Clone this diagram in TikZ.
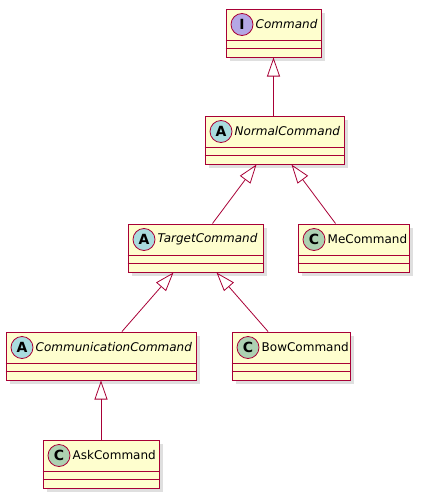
\documentclass[tikz,border=0pt]{standalone}
\usepackage{fontspec}
\setmainfont{DejaVu Sans}
\usetikzlibrary{arrows.meta,shadows}
\definecolor{boxfill}{HTML}{FEFECE}
\definecolor{boxline}{HTML}{A80036}
\definecolor{ifill}{HTML}{B4A7E5}
\definecolor{afill}{HTML}{A9DCDF}
\definecolor{cfill}{HTML}{ADD1B2}
\begin{document}
\begin{tikzpicture}[x=1pt,y=-1pt,
    classbox/.style={draw=boxline, fill=boxfill, line width=1pt, minimum height=48pt, inner sep=0pt,
      drop shadow={shadow xshift=4pt, shadow yshift=-4pt, fill=black!25}},
    badge/.style={circle, draw=boxline, line width=0.8pt, fill=#1, minimum size=22pt, inner sep=0pt,
      font=\fontsize{14}{14}\selectfont\bfseries},
    cname/.style={anchor=west, inner sep=0pt, font=\fontsize{12}{14}\selectfont},
    extends/.style={draw=boxline, line width=0.8pt,
      -{Triangle[open, length=19pt, width=13pt, line width=0.8pt]}}]
      \useasboundingbox (0,0) rectangle (427,498);
      \node [classbox, minimum width=95pt] (cmd) at (273.5,33) {};
      \node [classbox, minimum width=139pt] (normal) at (274.5,140) {};
      \node [classbox, minimum width=135pt] (target) at (195.5,248) {};
      \node [classbox, minimum width=111pt] (me) at (353.5,248) {};
      \node [classbox, minimum width=190pt] (comm) at (101,356) {};
      \node [classbox, minimum width=118pt] (bow) at (291,356) {};
      \node [classbox, minimum width=116pt] (ask) at (101,464) {};
      \foreach \n in {cmd,normal,target,me,comm,bow,ask} {
        \draw [boxline, line width=1pt] ([yshift=-32pt]\n.north west) -- ([yshift=-32pt]\n.north east);
        \draw [boxline, line width=1pt] ([yshift=-40pt]\n.north west) -- ([yshift=-40pt]\n.north east);
      }
      \node [badge=ifill] (cmdbadge) at ([xshift=16.5pt,yshift=-16pt]cmd.north west) {I};
      \node [cname] (cmdname) at ([xshift=30pt,yshift=-16pt]cmd.north west) {\itshape Command};
      \node [badge=afill] (normalbadge) at ([xshift=16.5pt,yshift=-16pt]normal.north west) {A};
      \node [cname] (normalname) at ([xshift=30pt,yshift=-16pt]normal.north west) {\itshape NormalCommand};
      \node [badge=afill] (targetbadge) at ([xshift=16.5pt,yshift=-16pt]target.north west) {A};
      \node [cname] (targetname) at ([xshift=30pt,yshift=-16pt]target.north west) {\itshape TargetCommand};
      \node [badge=cfill] (mebadge) at ([xshift=16.5pt,yshift=-16pt]me.north west) {C};
      \node [cname] (mename) at ([xshift=30pt,yshift=-16pt]me.north west) {MeCommand};
      \node [badge=afill] (commbadge) at ([xshift=16.5pt,yshift=-16pt]comm.north west) {A};
      \node [cname] (commname) at ([xshift=30pt,yshift=-16pt]comm.north west) {\itshape CommunicationCommand};
      \node [badge=cfill] (bowbadge) at ([xshift=16.5pt,yshift=-16pt]bow.north west) {C};
      \node [cname] (bowname) at ([xshift=30pt,yshift=-16pt]bow.north west) {BowCommand};
      \node [badge=cfill] (askbadge) at ([xshift=16.5pt,yshift=-16pt]ask.north west) {C};
      \node [cname] (askname) at ([xshift=30pt,yshift=-16pt]ask.north west) {AskCommand};
      \draw [extends] (normal.north -| cmd.south) -- (cmd.south);
      \draw [extends] ([xshift=17pt]target.north) -- ([xshift=-18pt]normal.south);
      \draw [extends] ([xshift=-18pt]me.north) -- ([xshift=17pt]normal.south);
      \draw [extends] ([xshift=21pt]comm.north) -- ([xshift=-22pt]target.south);
      \draw [extends] ([xshift=-23pt]bow.north) -- ([xshift=21pt]target.south);
      \draw [extends] (ask.north) -- (comm.south);
\end{tikzpicture}
\end{document}
